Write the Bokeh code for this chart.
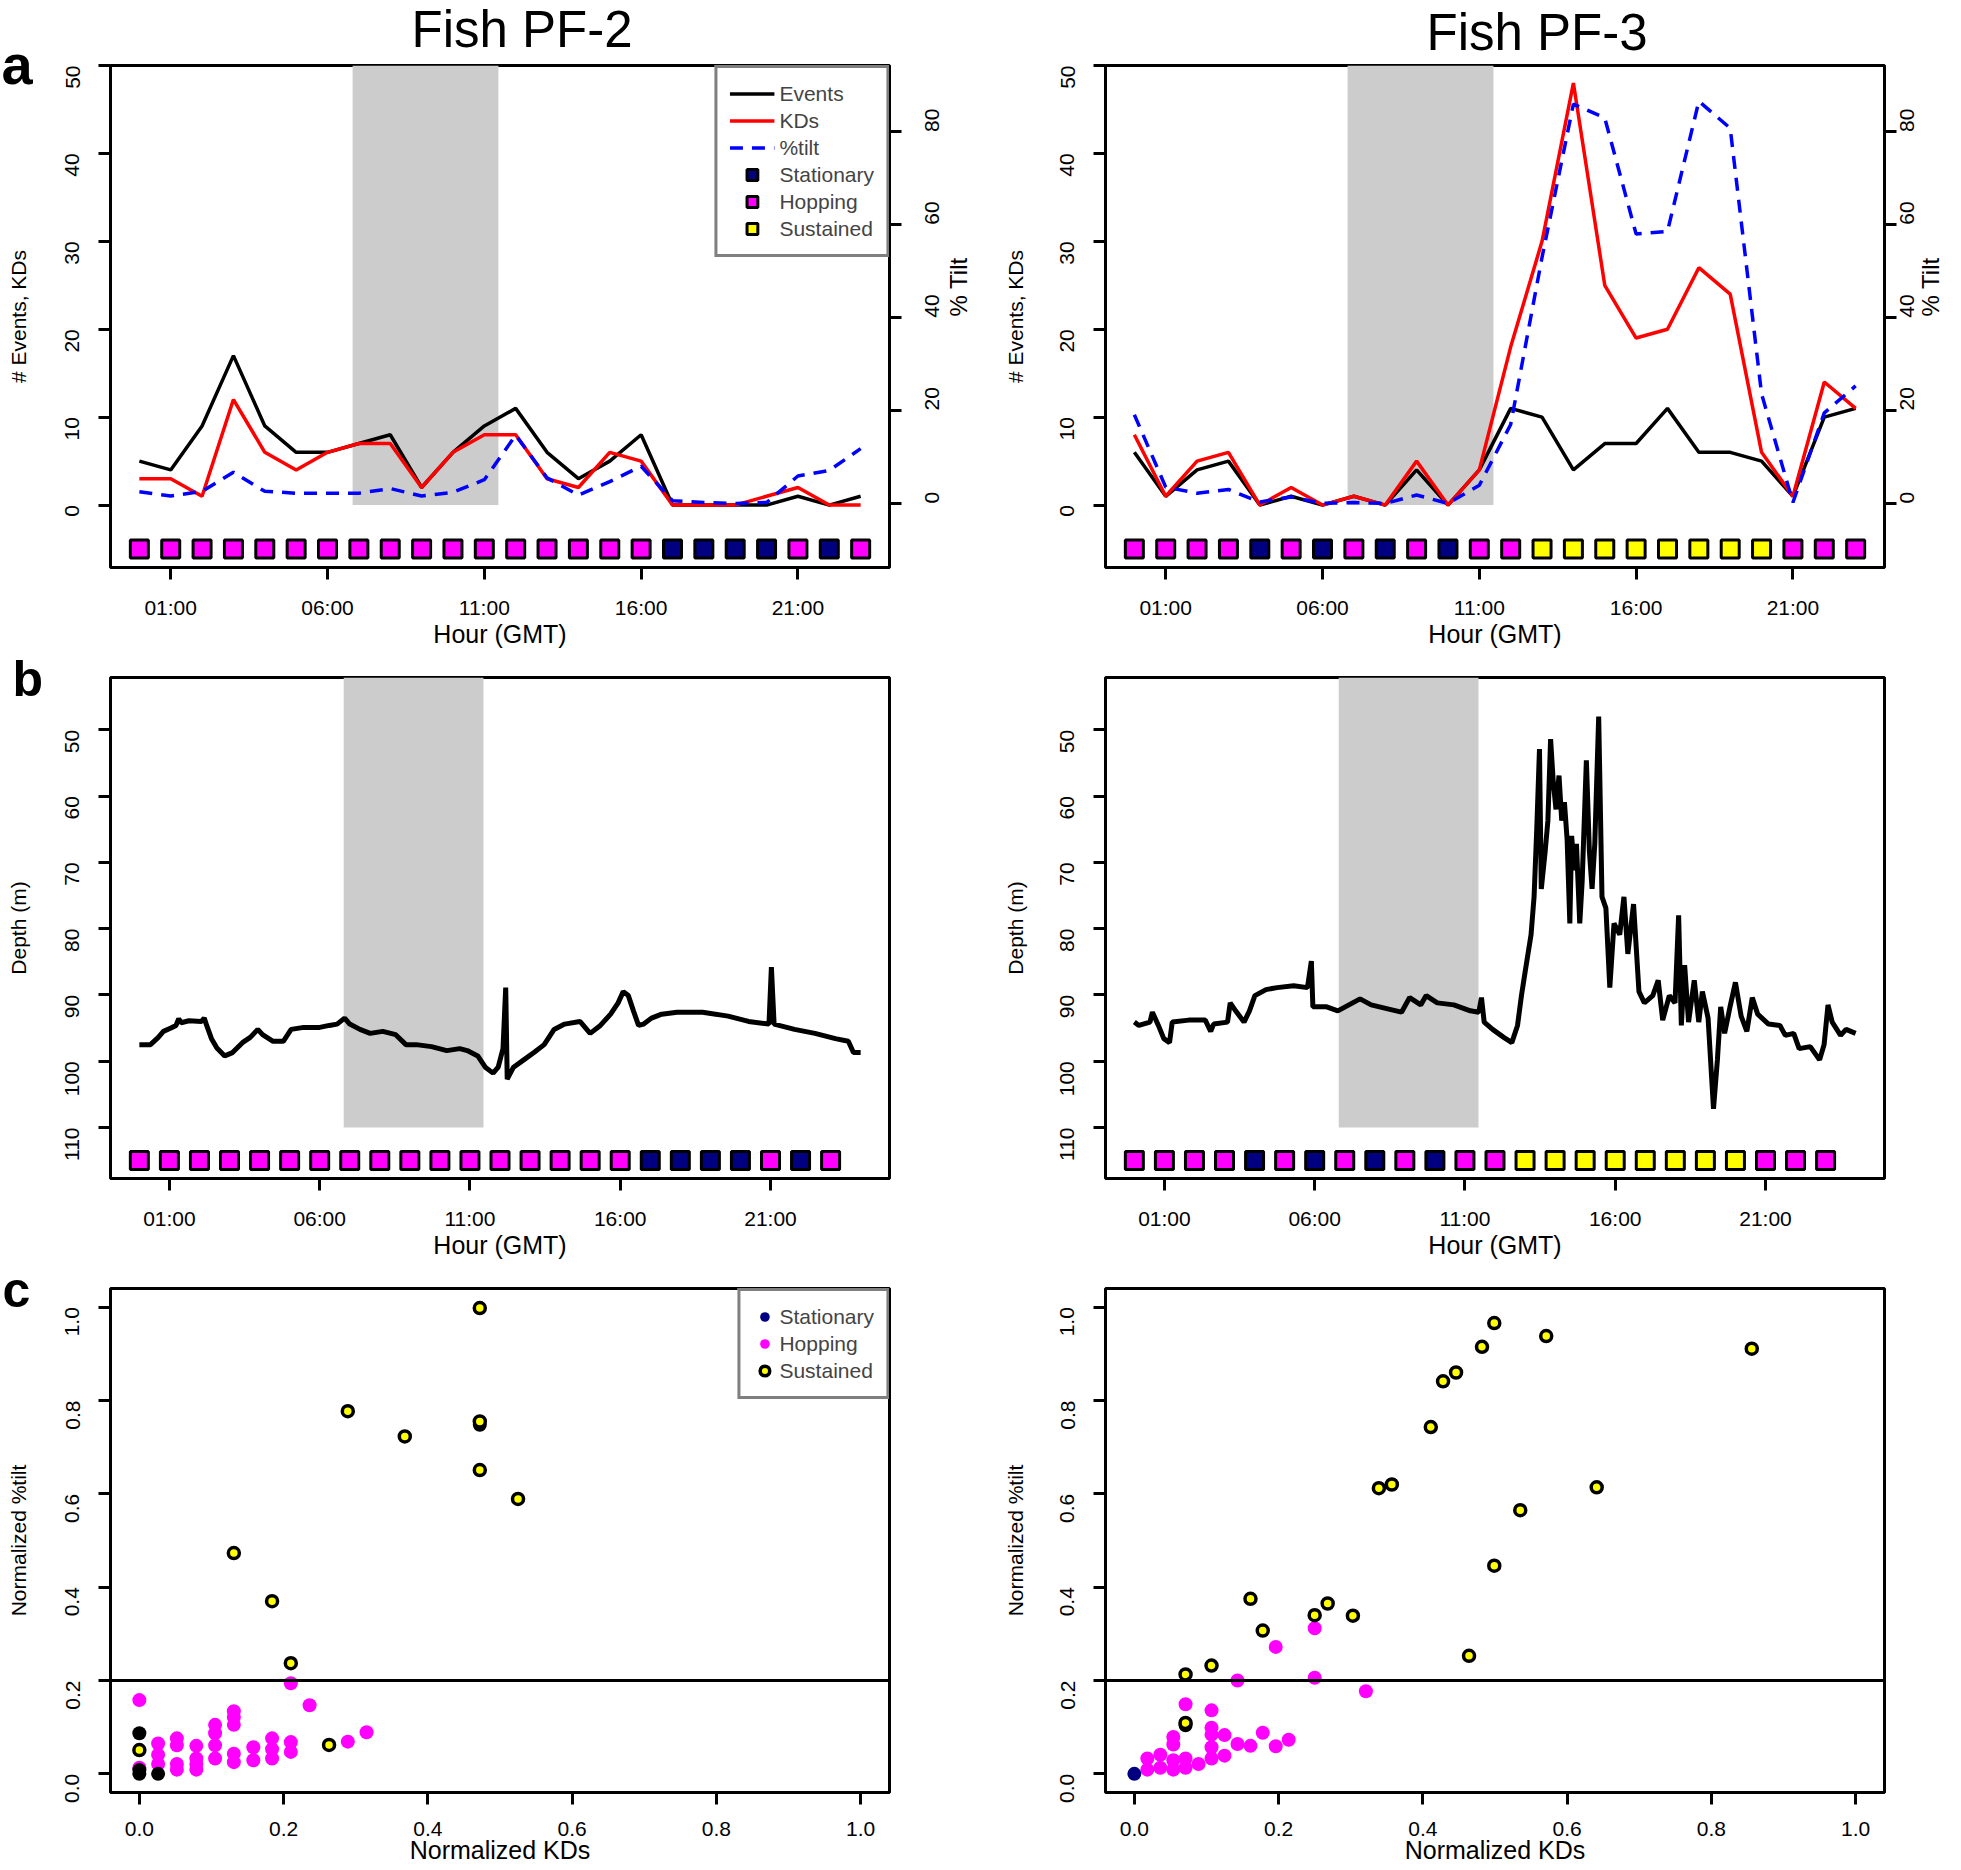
import math
from bokeh.plotting import figure
from bokeh.models import (Range1d, LinearAxis, FixedTicker, Legend, LegendItem,
                          Title, Span, NumeralTickFormatter)
from bokeh.layouts import column, row
from bokeh.embed import file_html
from bokeh.resources import INLINE

FONT = "Liberation Sans"
NAN = float("nan")

# ---------------- data ----------------
hours = list(range(24))
hour_ticks = [1, 6, 11, 16, 21]
hour_labels = ["01:00", "06:00", "11:00", "16:00", "21:00"]
shade_hours = [6.8, 11.45]

pf2_events = [5, 4, 9, 17, 9, 6, 6, 7, 8, 2, 6, 9, 11, 6, 3, 5, 8, 0, 0, 0, 0, 1, 0, 1]
pf2_kds = [3, 3, 1, 12, 6, 4, 6, 7, 7, 2, 6, 8, 8, 3, 2, 6, 5, 0, 0, 0, 1, 2, 0, 0]
pf2_tilt = [2.5, 1.6, 2.6, 6.7, 2.6, 2.2, 2.2, 2.2, 3.2, 1.6, 2.4, 5.1, 14.7, 5.5, 1.8, 4.7,
            8.0, 0.6, 0.2, 0.0, 0.2, 5.9, 7.1, 11.8]
pf2_status = ["H", "H", "H", "H", "H", "H", "H", "H", "H", "H", "H", "H", "H", "H", "H", "H",
              "H", "S", "S", "S", "S", "H", "S", "H"]

pf3_events = [6, 1, 4, 5, 0, 1, 0, 1, 0, 4, 0, 4, 11, 10, 4, 7, 7, 11, 6, 6, 5, 1, 10, 11]
pf3_kds = [8, 1, 5, 6, 0, 2, 0, 1, 0, 5, 0, 4, 18, 30, 48, 25, 19, 20, 27, 24, 6, 1, 14, 11]
pf3_tilt = [19.1, 3.5, 2.2, 3.0, 0.3, 1.4, 0.0, 0.2, 0.0, 1.8, 0.0, 3.9, 17.0, 53.0, 86.0, 83.0,
            58.0, 58.6, 86.6, 80.8, 23.6, 0.2, 19.5, 25.3]
pf3_status = ["H", "H", "H", "H", "S", "H", "S", "H", "S", "H", "S", "H", "H", "U", "U", "U",
              "U", "U", "U", "U", "U", "H", "H", "H"]

pf2_depth_hour = [0.00, 0.37, 0.63, 0.80, 1.05, 1.22, 1.31, 1.39, 1.65, 2.07, 2.16, 2.24, 2.40,
                  2.58, 2.84, 3.10, 3.43, 3.69, 3.94, 4.10, 4.45, 4.79, 5.05, 5.47, 6.00, 6.32,
                  6.58, 6.83, 7.00, 7.34, 7.68, 8.10, 8.53, 8.87, 9.21, 9.72, 10.23, 10.66,
                  10.91, 11.26, 11.51, 11.77, 11.94, 12.10, 12.19, 12.24, 12.45, 12.79, 13.13,
                  13.47, 13.80, 14.15, 14.66, 15.00, 15.34, 15.68, 15.93, 16.10, 16.27, 16.44,
                  16.61, 16.78, 17.04, 17.38, 17.89, 18.74, 19.59, 20.27, 20.95, 21.03, 21.12,
                  21.80, 22.48, 23.16, 23.59, 23.76, 24.00]
pf2_depth = [97.5, 97.5, 96.4, 95.5, 95.0, 94.6, 93.6, 94.2, 93.9, 94.0, 93.5, 94.6, 96.6,
             98.0, 99.2, 98.7, 97.2, 96.4, 95.2, 96.0, 97.0, 97.0, 95.2, 94.9, 94.9, 94.6,
             94.4, 93.5, 94.4, 95.2, 95.8, 95.5, 96.0, 97.5, 97.5, 97.8, 98.4, 98.1,
             98.4, 99.2, 100.9, 101.8, 100.9, 98.1, 88.9, 102.7, 100.9, 99.8, 98.7,
             97.5, 95.2, 94.4, 94.0, 95.8, 94.6, 92.9, 91.2, 89.5, 90.1, 92.4,
             94.6, 94.4, 93.5, 92.9, 92.6, 92.6, 93.2, 94.0, 94.4, 85.8, 94.4,
             95.2, 95.8, 96.6, 97.0, 98.7, 98.7]

pf3_depth_hour = [0.00, 0.15, 0.52, 0.60, 0.80, 0.98, 1.17, 1.26, 1.81, 2.36, 2.54, 2.64, 3.10,
                  3.19, 3.37, 3.65, 3.83, 4.01, 4.38, 4.75, 5.30, 5.76, 5.89, 5.94, 6.40, 6.77,
                  7.14, 7.51, 7.88, 8.43, 8.89, 9.16, 9.53, 9.71, 10.08, 10.63, 11.18, 11.46,
                  11.55, 11.64, 11.92, 12.29, 12.56, 12.75, 12.88, 13.00, 13.20, 13.30, 13.39,
                  13.48, 13.54, 13.67, 13.76, 13.85, 13.94, 14.03, 14.13, 14.22, 14.31, 14.40,
                  14.49, 14.55, 14.64, 14.71, 14.82, 14.90, 15.04, 15.14, 15.23, 15.32, 15.45,
                  15.56, 15.69, 15.82, 15.96, 16.15, 16.29, 16.42, 16.61, 16.79, 16.97, 17.25,
                  17.43, 17.58, 17.80, 17.99, 18.11, 18.20, 18.31, 18.44, 18.63, 18.78, 18.90,
                  19.09, 19.27, 19.40, 19.51, 19.64, 19.82, 20.00, 20.19, 20.38, 20.56, 20.74,
                  21.10, 21.48, 21.66, 21.94, 22.12, 22.49, 22.80, 22.95, 23.08, 23.22, 23.50,
                  23.68, 24.00]
pf3_depth = [94.1, 94.6, 94.1, 92.6, 94.6, 96.6, 97.2, 94.1, 93.8, 93.8, 95.5, 94.4, 94.1,
             91.2, 92.4, 94.1, 92.4, 90.1, 89.2, 88.9, 88.6, 88.9, 84.9, 91.8, 91.8, 92.4,
             91.5, 90.6, 91.5, 92.1, 92.6, 90.4, 91.5, 90.1, 91.2, 91.5, 92.4, 92.6,
             90.4, 94.1, 95.2, 96.4, 97.2, 94.6, 90.1, 86.6, 80.9, 75.2, 64.9,
             52.9, 74.0, 68.3, 63.7, 51.4, 58.0, 62.0, 56.9, 63.7, 60.9, 66.6,
             79.2, 66.0, 71.2, 67.2, 79.2, 72.9, 54.6, 68.3, 74.0, 67.2, 48.0,
             75.2, 76.9, 88.9, 79.2, 80.9, 75.2, 83.8, 76.3, 89.5, 91.2, 90.1,
             87.8, 93.8, 90.1, 91.2, 78.0, 94.6, 85.5, 94.1, 87.8, 94.1, 89.5,
             93.5, 107.2, 99.8, 91.8, 95.8, 91.8, 88.1, 93.2, 95.5, 90.4, 92.9,
             94.4, 94.6, 96.1, 95.8, 98.1, 97.8, 99.8, 97.5, 91.5, 94.1, 96.1,
             95.2, 95.8]

pf2_sus_x = [0.472, 0.289, 0.368, 0.472, 0.472, 0.525, 0.131, 0.184, 0.210, 0.263, 0.0]
pf2_sus_y = [0.998, 0.777, 0.723, 0.755, 0.651, 0.589, 0.473, 0.370, 0.237, 0.062, 0.051]
pf2_blk_x = [0.472, 0.0, 0.0, 0.0, 0.026]
pf2_blk_y = [0.748, 0.087, 0.008, 0.0, 0.0]
pf2_hop_x = [0.0, 0.210, 0.236, 0.131, 0.131, 0.131, 0.105, 0.105, 0.315, 0.289, 0.026, 0.026,
             0.026, 0.0, 0.052, 0.052, 0.052, 0.052, 0.079, 0.079, 0.079, 0.079, 0.105, 0.105,
             0.131, 0.131, 0.158, 0.158, 0.184, 0.184, 0.184, 0.210, 0.210]
pf2_hop_y = [0.158, 0.194, 0.147, 0.134, 0.121, 0.105, 0.105, 0.087, 0.089, 0.069, 0.065, 0.041,
             0.021, 0.013, 0.076, 0.061, 0.021, 0.009, 0.060, 0.033, 0.021, 0.009, 0.061, 0.033,
             0.043, 0.025, 0.057, 0.029, 0.076, 0.053, 0.033, 0.068, 0.047]
pf2_sta_x = []
pf2_sta_y = []

pf3_sus_x = [0.499, 0.571, 0.856, 0.482, 0.446, 0.428, 0.411, 0.339, 0.357, 0.641, 0.535, 0.499,
             0.161, 0.268, 0.250, 0.303, 0.178, 0.464, 0.107, 0.071, 0.071]
pf3_sus_y = [0.966, 0.938, 0.911, 0.915, 0.860, 0.841, 0.743, 0.612, 0.620, 0.614, 0.565, 0.446,
             0.375, 0.365, 0.340, 0.339, 0.307, 0.253, 0.232, 0.213, 0.109]
pf3_blk_x = [0.071]
pf3_blk_y = [0.104]
pf3_hop_x = [0.250, 0.196, 0.143, 0.250, 0.321, 0.071, 0.107, 0.107, 0.107, 0.125, 0.178, 0.214,
             0.054, 0.054, 0.143, 0.161, 0.196, 0.107, 0.107, 0.125, 0.018, 0.018, 0.036, 0.036,
             0.054, 0.054, 0.071, 0.071, 0.089]
pf3_hop_y = [0.312, 0.272, 0.200, 0.206, 0.177, 0.149, 0.136, 0.099, 0.084, 0.083, 0.088, 0.073,
             0.079, 0.063, 0.064, 0.060, 0.059, 0.057, 0.033, 0.039, 0.033, 0.009, 0.041, 0.013,
             0.029, 0.009, 0.033, 0.013, 0.021]
pf3_sta_x = [0.0]
pf3_sta_y = [0.0]

STATUS_COLORS = {"S": "#000080", "H": "#ff00ff", "U": "#ffff00"}
STATUS_NAMES = {"S": "Stationary", "H": "Hopping", "U": "Sustained"}

# ---------------- layout geometry (page pixels, page origin 0) ----------------
COL = {"L": dict(fig_x=0, bl=110, fw=779, br=111, ystand=26, ylab=26, rstand=31, rlab=9,
                 tstand=1),
       "R": dict(fig_x=1000, bl=104, fw=780, br=77, ystand=26, ylab=24, rstand=11, rlab=6,
                 tstand=6)}
ROWS = [dict(fig_y=0, bt=65, fh=504, bb=81, xstand=16, xlab=-2),
        dict(fig_y=650, bt=27, fh=502, bb=82, xstand=16, xlab=-2),
        dict(fig_y=1261, bt=27, fh=504, bb=77, xstand=17, xlab=-3)]


def make_fig(c, r, xr, yr):
    cg, rg = COL[c], ROWS[r]
    p = figure(width=cg["bl"] + cg["fw"] + cg["br"], height=rg["bt"] + rg["fh"] + rg["bb"],
               x_range=Range1d(*xr), y_range=Range1d(*yr), title=None,
               output_backend="svg", toolbar_location=None,
               min_border_left=cg["bl"], min_border_right=cg["br"],
               min_border_top=rg["bt"], min_border_bottom=rg["bb"])
    p.grid.visible = False
    p.outline_line_color = "black"
    p.outline_line_width = 3
    p.background_fill_color = "white"
    p.border_fill_color = "white"
    geom = dict(fl=cg["fig_x"] + cg["bl"], ft=rg["fig_y"] + rg["bt"], fw=cg["fw"], fh=rg["fh"],
                c=c, r=r)
    return p, geom


def style_axis(ax):
    ax.axis_line_color = None
    ax.major_tick_line_color = "black"
    ax.major_tick_line_width = 3
    ax.major_tick_out = 12
    ax.major_tick_in = 0
    ax.minor_tick_line_color = None
    ax.major_label_text_font = FONT
    ax.major_label_text_font_size = "21px"
    ax.major_label_text_color = "black"
    ax.axis_label_text_font = FONT
    ax.axis_label_text_font_style = "normal"
    ax.axis_label_text_color = "black"


def style_x(p, g, label, ticks):
    rg = ROWS[g["r"]]
    ax = p.below[0]
    style_axis(ax)
    ax.ticker = FixedTicker(ticks=ticks)
    ax.axis_label = label
    ax.axis_label_text_font_size = "25px"
    ax.major_label_standoff = rg["xstand"]
    ax.axis_label_standoff = rg["xlab"]
    return ax


def style_y(p, g, label, ticks):
    cg = COL[g["c"]]
    ax = p.left[0]
    style_axis(ax)
    ax.ticker = FixedTicker(ticks=ticks)
    ax.axis_label = label
    ax.axis_label_text_font_size = "21px"
    ax.major_label_orientation = math.pi / 2
    ax.major_label_standoff = cg["ystand"]
    ax.axis_label_standoff = cg["ylab"]
    return ax


def add_title(p, geom, text, ink_left, size, bold, standoff, valign):
    t = Title(text=text, align="left", offset=ink_left - geom["fl"], text_font=FONT,
              text_font_size=f"{size}px", text_font_style="bold" if bold else "normal",
              text_color="black", vertical_align=valign)
    try:
        t.standoff = standoff
    except Exception:
        t.standoff = 0
    p.add_layout(t, "above")


def add_squares(p, status, yval):
    rends = {}
    for key in ["S", "H", "U"]:
        xs = [h for h, s in zip(hours, status) if s == key]
        if not xs:
            xs = [NAN]
        rends[key] = p.scatter(xs, [yval] * len(xs), marker="square", size=18,
                               fill_color=STATUS_COLORS[key], line_color="black", line_width=3)
    return rends


def top_panel(c, events, kds, tilt, status, legend, title, title_left, letter):
    p, g = make_fig(c, 0, (-0.92, 23.92), (-7.1, 50))
    if letter:
        add_title(p, g, letter, 1, 56, True, -60, "bottom")
    add_title(p, g, title, title_left, 51, False, COL[c]["tstand"], "top")
    p.extra_y_ranges = {"tilt": Range1d(-13.8, 94.3)}
    p.quad(left=[shade_hours[0]], right=[shade_hours[1]], bottom=[0], top=[p.y_range.end],
           fill_color="#cccccc", line_color=None)
    r_ev = p.line(hours, events, line_color="black", line_width=3.5)
    r_kd = p.line(hours, kds, line_color="#ff0000", line_width=3.5)
    r_ti = p.line(hours, tilt, line_color="#0000ff", line_width=3.5, line_dash="13 9",
                  y_range_name="tilt")
    sq = add_squares(p, status, -5)
    ax_x = style_x(p, g, "Hour (GMT)", hour_ticks)
    ax_x.major_label_overrides = {t: l for t, l in zip(hour_ticks, hour_labels)}
    style_y(p, g, "# Events, KDs", [0, 10, 20, 30, 40, 50])
    ax_r = LinearAxis(y_range_name="tilt", ticker=FixedTicker(ticks=[0, 20, 40, 60, 80]))
    style_axis(ax_r)
    ax_r.major_label_orientation = math.pi / 2
    ax_r.major_label_standoff = COL[c]["rstand"]
    ax_r.axis_label = "% Tilt"
    ax_r.axis_label_text_font_size = "24px"
    ax_r.axis_label_standoff = COL[c]["rlab"]
    if "axis_label_orientation" in ax_r.properties():
        ax_r.axis_label_orientation = math.pi / 2
    p.add_layout(ax_r, "right")
    if legend:
        items = [LegendItem(label="Events", renderers=[r_ev]),
                 LegendItem(label="KDs", renderers=[r_kd]),
                 LegendItem(label="%tilt", renderers=[r_ti])]
        for key in ["S", "H", "U"]:
            items.append(LegendItem(label=STATUS_NAMES[key], renderers=[sq[key]]))
        lg = Legend(items=items, location="top_right", margin=0, padding=12, spacing=0,
                    glyph_width=45, glyph_height=27, label_standoff=5, label_height=20,
                    border_line_color="black", border_line_width=3,
                    background_fill_color="white", background_fill_alpha=1.0,
                    label_text_font=FONT, label_text_font_size="21px")
        p.add_layout(lg)
    return p


def mid_panel(c, dh, dd, status, letter):
    p, g = make_fig(c, 1, (-0.96, 24.96), (117.7, 42.1))
    if letter:
        add_title(p, g, letter, 12, 50, True, -58, "bottom")
    p.quad(left=[shade_hours[0]], right=[shade_hours[1]], bottom=[110], top=[p.y_range.end],
           fill_color="#cccccc", line_color=None)
    p.line(dh, dd, line_color="black", line_width=5)
    add_squares(p, status, 115)
    ax_x = style_x(p, g, "Hour (GMT)", hour_ticks)
    ax_x.major_label_overrides = {t: l for t, l in zip(hour_ticks, hour_labels)}
    style_y(p, g, "Depth (m)", [50, 60, 70, 80, 90, 100, 110])
    return p


def bot_panel(c, hop, sta, blk, sus, legend, letter):
    p, g = make_fig(c, 2, (-0.04, 1.04), (-0.04, 1.04))
    if letter:
        add_title(p, g, letter, 2, 50, True, -58, "bottom")
    p.add_layout(Span(location=0.2, dimension="width", line_color="black", line_width=3))
    r_h = p.scatter(hop[0], hop[1], size=14, fill_color="#ff00ff", line_color=None)
    sx, sy = (sta[0], sta[1]) if sta[0] else ([NAN], [NAN])
    r_s = p.scatter(sx, sy, size=14, fill_color="#000080", line_color=None)
    p.scatter(blk[0], blk[1], size=14, fill_color="black", line_color=None)
    r_u = p.scatter(sus[0], sus[1], size=11, fill_color="#ffff00", line_color="black",
                    line_width=3.5)
    ticks = [0.0, 0.2, 0.4, 0.6, 0.8, 1.0]
    ax_x = style_x(p, g, "Normalized KDs", ticks)
    ax_x.formatter = NumeralTickFormatter(format="0.0")
    ax_y = style_y(p, g, "Normalized %tilt", ticks)
    ax_y.formatter = NumeralTickFormatter(format="0.0")
    if legend:
        items = [LegendItem(label="Stationary", renderers=[r_s]),
                 LegendItem(label="Hopping", renderers=[r_h]),
                 LegendItem(label="Sustained", renderers=[r_u])]
        lg = Legend(items=items, location="top_right", margin=0, padding=12, spacing=0,
                    glyph_width=24, glyph_height=27, label_standoff=3, label_height=20,
                    border_line_color="black", border_line_width=3,
                    background_fill_color="white", background_fill_alpha=1.0,
                    label_text_font=FONT, label_text_font_size="21px")
        p.add_layout(lg)
    return p


a1 = top_panel("L", pf2_events, pf2_kds, pf2_tilt, pf2_status, True, "Fish PF-2", 411, "a")
a2 = top_panel("R", pf3_events, pf3_kds, pf3_tilt, pf3_status, False, "Fish PF-3", 1425, None)
b1 = mid_panel("L", pf2_depth_hour, pf2_depth, pf2_status, "b")
b2 = mid_panel("R", pf3_depth_hour, pf3_depth, pf3_status, None)
c1 = bot_panel("L", (pf2_hop_x, pf2_hop_y), (pf2_sta_x, pf2_sta_y), (pf2_blk_x, pf2_blk_y),
               (pf2_sus_x, pf2_sus_y), True, "c")
c2 = bot_panel("R", (pf3_hop_x, pf3_hop_y), (pf3_sta_x, pf3_sta_y), (pf3_blk_x, pf3_blk_y),
               (pf3_sus_x, pf3_sus_y), False, None)

layout = column(row(a1, a2), row(b1, b2), row(c1, c2))
open("out.html", "w").write(file_html(layout, INLINE, title="Fish PF-2 / PF-3"))
